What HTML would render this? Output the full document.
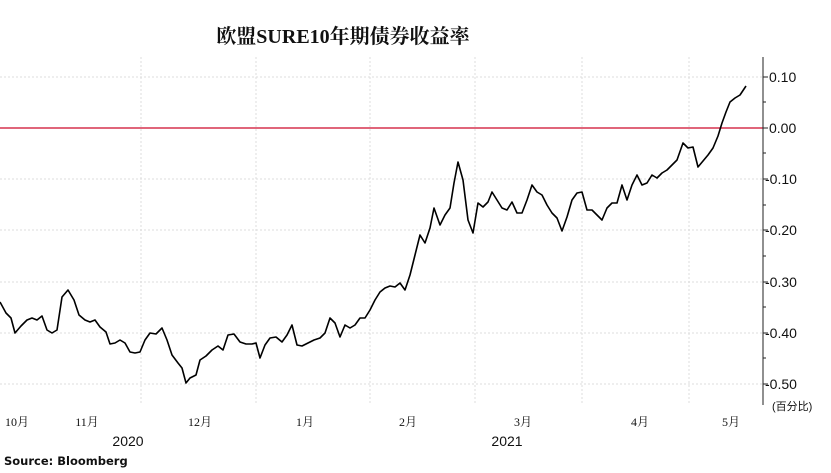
<!DOCTYPE html>
<html><head><meta charset="utf-8"><style>
body{margin:0;background:#fff;width:831px;height:468px;overflow:hidden}
</style></head><body>
<svg width="831" height="468" viewBox="0 0 831 468" xmlns="http://www.w3.org/2000/svg">
<text x="343" y="43" text-anchor="middle" font-family="'Liberation Serif','Noto Serif CJK SC',serif" font-size="20" font-weight="bold" fill="#111">欧盟SURE10年期债券收益率</text>
<g stroke="#dcdcdc" stroke-width="1" stroke-dasharray="2,2">
<line x1="0" y1="77" x2="763" y2="77"/><line x1="0" y1="179" x2="763" y2="179"/><line x1="0" y1="230" x2="763" y2="230"/><line x1="0" y1="282" x2="763" y2="282"/><line x1="0" y1="333" x2="763" y2="333"/><line x1="0" y1="384" x2="763" y2="384"/>
<line x1="141" y1="57" x2="141" y2="405"/><line x1="256" y1="57" x2="256" y2="405"/><line x1="370" y1="57" x2="370" y2="405"/><line x1="475" y1="57" x2="475" y2="405"/><line x1="582" y1="57" x2="582" y2="405"/><line x1="689" y1="57" x2="689" y2="405"/>
</g>
<line x1="0" y1="128" x2="763" y2="128" stroke="#d6324e" stroke-width="1.6"/>
<line x1="763" y1="57" x2="763" y2="405" stroke="#222" stroke-width="1"/>
<g stroke="#222" stroke-width="1">
<line x1="763" y1="77" x2="768" y2="77"/><line x1="763" y1="128" x2="768" y2="128"/><line x1="763" y1="179" x2="768" y2="179"/><line x1="763" y1="230" x2="768" y2="230"/><line x1="763" y1="282" x2="768" y2="282"/><line x1="763" y1="333" x2="768" y2="333"/><line x1="763" y1="384" x2="768" y2="384"/>
<line x1="763" y1="102" x2="766" y2="102"/><line x1="763" y1="153" x2="766" y2="153"/><line x1="763" y1="205" x2="766" y2="205"/><line x1="763" y1="256" x2="766" y2="256"/><line x1="763" y1="307" x2="766" y2="307"/><line x1="763" y1="358" x2="766" y2="358"/>
</g>
<g font-family="'Liberation Sans','DejaVu Sans',sans-serif" font-size="14" fill="#111">
<text x="769" y="82">0.10</text><text x="769" y="133">0.00</text><text x="765" y="184">-0.10</text><text x="765" y="235">-0.20</text><text x="765" y="287">-0.30</text><text x="765" y="338">-0.40</text><text x="765" y="389">-0.50</text>
</g>
<text x="772" y="410" font-family="'Liberation Sans','Noto Sans CJK SC',sans-serif" font-size="11" fill="#111">(百分比)</text>
<g font-family="'Liberation Serif','Noto Serif CJK SC',serif" font-size="12" fill="#111" text-anchor="middle">
<text x="17" y="426">10月</text><text x="87" y="426">11月</text><text x="200" y="426">12月</text><text x="305" y="426">1月</text><text x="408" y="426">2月</text><text x="523" y="426">3月</text><text x="640" y="426">4月</text><text x="731" y="426">5月</text>
</g>
<g font-family="'Liberation Sans',sans-serif" font-size="14" fill="#111" text-anchor="middle">
<text x="128" y="446">2020</text><text x="507" y="446">2021</text>
</g>
<text x="4" y="465" font-family="'DejaVu Sans','Liberation Sans',sans-serif" font-weight="bold" font-size="11.5" fill="#111">Source: Bloomberg</text>
<polyline fill="none" stroke="#000" stroke-width="1.6" stroke-linejoin="round" points="0,302 6,313 11,318 15,333 21,326 27,320 32,318 37,320 42,316 47,330 52,333 57,330 62,297 68,290 74,300 79,315 85,320 90,322 95,320 100,327 106,332 110,344 115,343 120,340 125,343 130,352 135,353 140,352 145,340 150,333 156,334 162,328 167,340 172,355 178,363 182,368 186,383 190,378 196,375 200,360 206,356 212,350 218,346 223,350 228,335 234,334 240,342 246,344 252,344 256,343 260,358 265,345 270,338 276,337 282,342 287,335 292,325 297,345 302,346 308,343 314,340 320,338 325,333 330,318 335,323 340,337 345,325 350,328 355,325 360,318 365,318 370,310 375,300 380,292 385,288 390,286 395,287 400,283 405,290 410,275 415,255 420,235 425,243 430,228 434,208 440,225 445,215 450,208 454,183 458,162 463,180 468,220 473,233 478,203 483,207 488,202 492,192 497,200 502,208 507,210 512,202 517,213 522,213 527,200 532,185 537,192 542,195 547,205 552,213 557,218 562,231 567,217 572,200 577,193 582,192 587,210 592,210 597,215 602,220 607,208 612,203 617,203 622,185 627,200 632,185 637,175 642,185 647,183 652,175 657,178 662,173 667,170 672,165 677,160 683,143 688,148 693,147 698,167 703,161 708,155 713,148 718,136 722,123 726,112 730,102 735,98 740,95 746,86"/>
</svg>
</body></html>
